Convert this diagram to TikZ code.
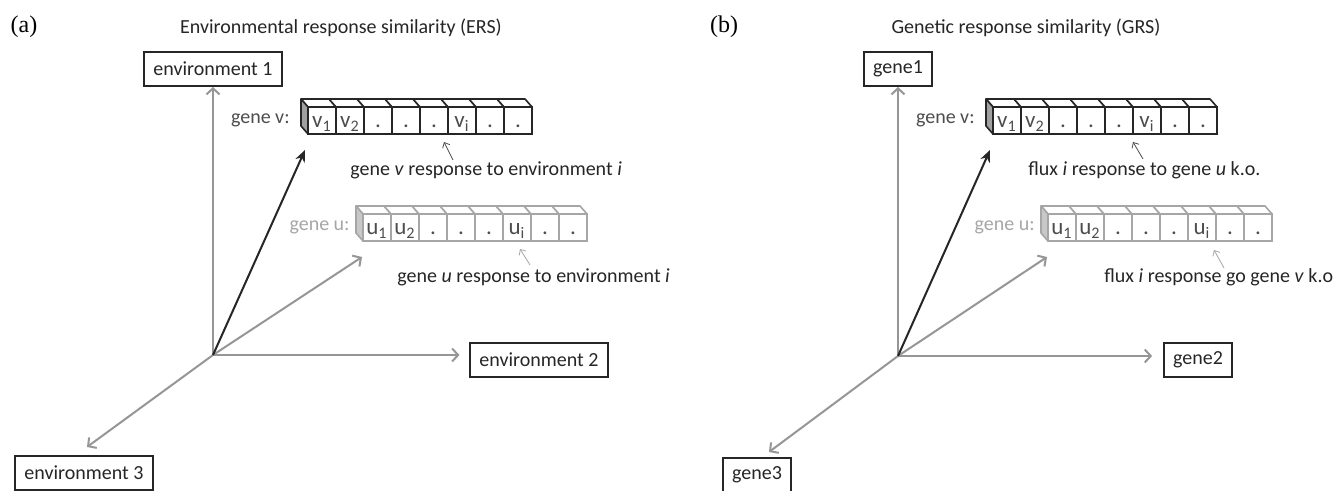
\documentclass[tikz,border=0pt]{standalone}
\usepackage{fontspec}
\newfontfamily\calibfont{Carlito}
\newfontfamily\timesfont{Liberation Serif}
\usetikzlibrary{
  arrows.meta,
  calc,
  positioning
}
\definecolor{respDark}{HTML}{262626}
\definecolor{respMid}{HTML}{4D4D4D}
\definecolor{respAxis}{HTML}{969696}
\definecolor{respLight}{HTML}{A6A6A6}
\definecolor{respFace}{HTML}{A0A0A0}
\definecolor{respFaceLight}{HTML}{C8C8C8}
\tikzset{
  respFont/.style={font=\calibfont\fontsize{10}{12}\selectfont},
  axisBox/.style={
    respFont,
    draw=respDark,
    line width=1pt,
    text=respDark,
    minimum height=17pt,
    inner xsep=4.5pt,
    inner ysep=0pt
  },
  axisArrow/.style={respAxis, line width=1pt,
    -{Straight Barb[length=3pt,width=6.5pt]}},
  vecArrow/.style={respDark, line width=1pt, -{Stealth[length=6pt,width=5pt]}},
  noteArrow/.style={line width=0.4pt, -{Straight Barb[length=2.2pt,width=4pt]}},
  vcell/.style={
    font=\calibfont\fontsize{11.5}{12}\selectfont,
    draw=respDark,
    line width=1pt,
    fill=white,
    text=respMid,
    minimum width=14pt,
    minimum height=13.5pt,
    inner sep=0pt,
    outer sep=0pt,
    text height=10.5pt,
    text depth=3pt,
    anchor=south west
  },
  ucell/.style={vcell, draw=respLight},
  vtop/.style={draw=respDark, line width=0.8pt, fill=white, line join=round},
  utop/.style={draw=respLight, line width=0.8pt, fill=white, line join=round},
  vside/.style={draw=respDark, line width=0.8pt, fill=respFace, line join=round},
  uside/.style={draw=respLight, line width=0.8pt, fill=respFaceLight, line join=round},
  geneLabel/.style={respFont, inner sep=0pt},
  noteText/.style={respFont, text=respDark, anchor=west, inner sep=0pt},
  panelTitle/.style={respFont, text=respDark},
  panelLabel/.style={font=\timesfont\fontsize{12}{14}\selectfont}
}

\begin{document}
\begin{tikzpicture}[x=0.5pt,y=-0.5pt]
  \path[use as bounding box, fill=white] (0,0) rectangle (1338,491);

  % (a) environments as axes
  \node[panelLabel] (alabel) at (24,27) {(a)};
  \node[panelTitle] (atitle) at (341,28) {Environmental response similarity (ERS)};
  \coordinate (aO) at (213,355);
  \node[axisBox] (env1) at (213,69) {environment 1};
  \node[axisBox] (env2) at (539,360) {environment 2};
  \node[axisBox] (env3) at (84,473) {environment 3};

  \foreach \t [count=\i] in {v\textsubscript{1},v\textsubscript{2},{.},{.},{.},v\textsubscript{i},{.},{.}} {
    \node[vcell] (av\i) at ({308+28*(\i-1)},134) {\t};
    \draw[vtop] (av\i.north west) -- (av\i.north east) -- ++(-7,-8) -- ++(-28,0) -- cycle;
  }
  \draw[vside] (av1.north west) -- (av1.south west) -- ++(-7,-8) -- ++(0,-27) -- cycle;
  \node[geneLabel, text=respMid, left=9pt of av1] (avlabel) {gene v:};

  \foreach \t [count=\i] in {u\textsubscript{1},u\textsubscript{2},{.},{.},{.},u\textsubscript{i},{.},{.}} {
    \node[ucell] (au\i) at ({363+28*(\i-1)},241) {\t};
    \draw[utop] (au\i.north west) -- (au\i.north east) -- ++(-7,-8) -- ++(-28,0) -- cycle;
  }
  \draw[uside] (au1.north west) -- (au1.south west) -- ++(-7,-8) -- ++(0,-27) -- cycle;
  \node[geneLabel, text=respLight, left=6.5pt of au1] (aulabel) {gene u:};

  \node[noteText] (avnote) at (350,170) {gene \textit{v} response to environment \textit{i}};
  \node[noteText] (aunote) at (397,277) {gene \textit{u} response to environment \textit{i}};
  \draw[noteArrow, respMid] ($(av5.south east)+(5,26)$) -- ($(av5.south east)+(-4,8)$);
  \draw[noteArrow, respLight] ($(au6.south east)+(-1,24)$) -- ($(au6.south east)+(-11,8)$);

  \draw[axisArrow] (aO) -- (aO |- env1.south);
  \draw[axisArrow, shorten >=5pt] (aO) -- (aO -| env2.west);
  \draw[axisArrow] (aO) -- ($(env3.north)+(3,-8)$);
  \draw[axisArrow] (aO) -- ($(au1.south west)+(-1,16)$);
  \draw[vecArrow] (aO) -- ($(av1.south west)+(-3,16)$);

  % (b) gene knock-outs as axes
  \begin{scope}[shift={(685,0)}]
    \node[panelLabel] (blabel) at (39,27) {(b)};
    \node[panelTitle] (btitle) at (341,28) {Genetic response similarity (GRS)};
    \coordinate (bO) at (213,356);
    \node[axisBox] (gene1) at (213,69) {gene1};
    \node[axisBox] (gene2) at (513,360) {gene2};
    \node[axisBox] (gene3) at (72,475) {gene3};

    \foreach \t [count=\i] in {v\textsubscript{1},v\textsubscript{2},{.},{.},{.},v\textsubscript{i},{.},{.}} {
      \node[vcell] (bv\i) at ({308+28*(\i-1)},134) {\t};
      \draw[vtop] (bv\i.north west) -- (bv\i.north east) -- ++(-7,-8) -- ++(-28,0) -- cycle;
    }
    \draw[vside] (bv1.north west) -- (bv1.south west) -- ++(-7,-8) -- ++(0,-27) -- cycle;
    \node[geneLabel, text=respMid, left=9pt of bv1] (bvlabel) {gene v:};

    \foreach \t [count=\i] in {u\textsubscript{1},u\textsubscript{2},{.},{.},{.},u\textsubscript{i},{.},{.}} {
      \node[ucell] (bu\i) at ({363+28*(\i-1)},241) {\t};
      \draw[utop] (bu\i.north west) -- (bu\i.north east) -- ++(-7,-8) -- ++(-28,0) -- cycle;
    }
    \draw[uside] (bu1.north west) -- (bu1.south west) -- ++(-7,-8) -- ++(0,-27) -- cycle;
    \node[geneLabel, text=respLight, left=6.5pt of bu1] (bulabel) {gene u:};

    \node[noteText] (bvnote) at (343,170) {flux \textit{i} response to gene \textit{u} k.o.};
    \node[noteText] (bunote) at (419,277) {flux \textit{i} response go gene \textit{v} k.o};
    \draw[noteArrow, respMid] ($(bv5.south east)+(10,25)$) -- ($(bv5.south east)+(0,8)$);
    \draw[noteArrow, respLight] ($(bu6.south east)+(8,27)$) -- ($(bu6.south east)+(-2,9)$);

    \draw[axisArrow] (bO) -- (bO |- gene1.south);
    \draw[axisArrow, shorten >=5.5pt] (bO) -- (bO -| gene2.west);
    \draw[axisArrow] (bO) -- ($(gene3.north)+(12,-5)$);
    \draw[axisArrow] (bO) -- ($(bu1.south west)+(-1,16)$);
    \draw[vecArrow] (bO) -- ($(bv1.south west)+(-3,16)$);
  \end{scope}
\end{tikzpicture}
\end{document}
